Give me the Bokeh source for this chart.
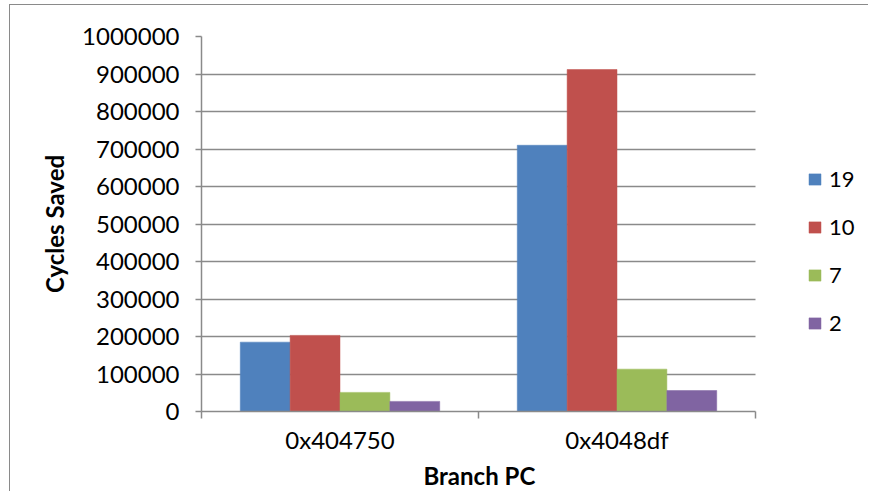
from bokeh.plotting import figure
from bokeh.models import (ColumnDataSource, FixedTicker, SingleIntervalTicker,
                          NumeralTickFormatter, Legend, LegendItem, Range1d, Title)
from bokeh.transform import dodge
from bokeh.embed import file_html
from bokeh.resources import INLINE

# Cycles saved per branch, one series per configuration
categories = ["0x404750", "0x4048df"]
series_names = ["19", "10", "7", "2"]
saved_19 = [185000, 710000]
saved_10 = [203000, 912000]
saved_7 = [51000, 113000]
saved_2 = [27000, 56000]

colors = ["#4F81BD", "#C0504D", "#9BBB59", "#8064A2"]
FONT = "Lato"
GRAY = "#8a8a8a"

W, H = 859, 487
LEFT, TOP, BOTTOM = 191, 31, 81
PLOT_W = 554  # width of the bar area; the rest of the frame holds the legend

n = len(categories)
frame_w = W - LEFT
x_end = n * frame_w / PLOT_W

# categories sit at the centres of unit-wide slots on a numeric axis
centers = [i + 0.5 for i in range(n)]
source = ColumnDataSource(dict(
    x=centers, cat=categories,
    s19=saved_19, s10=saved_10, s7=saved_7, s2=saved_2,
))

p = figure(
    width=W, height=H,
    x_range=Range1d(0, x_end), y_range=Range1d(0, 1000000),
    output_backend="svg", toolbar_location=None,
    min_border_left=LEFT, min_border_right=0,
    min_border_top=TOP, min_border_bottom=BOTTOM,
)
p.outline_line_color = None
p.background_fill_color = "white"
p.border_fill_color = "white"
p.styles = {
    "margin-left": "9px", "margin-top": "4px",
    "border-left": f"1.5px solid {GRAY}", "border-top": f"1.5px solid {GRAY}",
    "border-right": "none", "border-bottom": "none",
}

bar_w = 0.18
offsets = [-1.5 * bar_w, -0.5 * bar_w, 0.5 * bar_w, 1.5 * bar_w]
fields = ["s19", "s10", "s7", "s2"]
items = []
for name, field, off, col in zip(series_names, fields, offsets, colors):
    r = p.vbar(x=dodge("x", off, range=p.x_range), top=field, width=bar_w,
               source=source, fill_color=col, line_color=col, line_width=0.5)
    items.append(LegendItem(label=name, renderers=[r]))

# x axis: labels at slot centres, ticks on the slot boundaries
xa = p.xaxis[0]
xa.bounds = (0, n)
xa.ticker = FixedTicker(ticks=centers, minor_ticks=list(range(n + 1)))
xa.major_label_overrides = {c: lab for c, lab in zip(centers, categories)}
xa.major_tick_out = 0
xa.major_tick_in = 0
xa.minor_tick_out = 7
xa.minor_tick_in = 0
xa.minor_tick_line_color = GRAY
xa.minor_tick_line_width = 1.5
xa.axis_line_color = GRAY
xa.axis_line_width = 1.5
xa.major_label_standoff = 6
xa.major_label_text_font = FONT
xa.major_label_text_font_size = "24px"
xa.major_label_text_color = "black"

# axis title placed under the middle of the bar area, not the whole frame
x_title = Title(
    text="Branch PC", align="left", offset=222,
    text_font=FONT, text_font_style="bold", text_font_size="24px",
    text_color="black", standoff=4,
)
p.add_layout(x_title, "below")

ya = p.yaxis[0]
ya.ticker = SingleIntervalTicker(interval=100000)
ya.formatter = NumeralTickFormatter(format="0")
ya.major_tick_out = 6
ya.major_tick_in = 0
ya.minor_tick_line_color = None
ya.major_tick_line_color = GRAY
ya.major_tick_line_width = 1.5
ya.axis_line_color = GRAY
ya.axis_line_width = 1.5
ya.major_label_standoff = 16
ya.major_label_text_font = FONT
ya.major_label_text_font_size = "24px"
ya.major_label_text_color = "black"
ya.axis_label = "Cycles Saved"
ya.axis_label_text_font = FONT
ya.axis_label_text_font_style = "bold"
ya.axis_label_text_font_size = "24px"
ya.axis_label_text_color = "black"
ya.axis_label_standoff = 10

p.xgrid.grid_line_color = None
p.ygrid.grid_line_color = GRAY
p.ygrid.grid_line_width = 1.5
p.ygrid.cross_bounds = (0, n)

legend = Legend(
    items=items, location=(PLOT_W + 52, 75),
    orientation="vertical",
    glyph_width=15, glyph_height=14, label_standoff=7,
    label_height=22, spacing=21, padding=0, margin=0,
    label_text_font=FONT, label_text_font_size="22px",
    label_text_color="black",
    border_line_color=None, background_fill_alpha=0,
)
p.add_layout(legend, "center")

open("out.html", "w").write(file_html(p, INLINE))
